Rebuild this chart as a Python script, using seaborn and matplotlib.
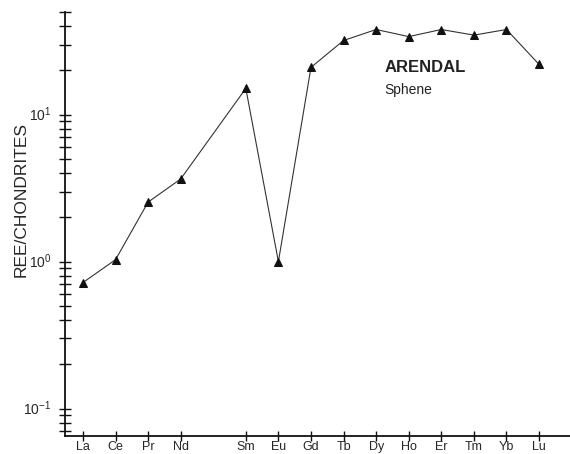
import numpy as np
import pandas as pd
import matplotlib
matplotlib.use("Agg")
import matplotlib.pyplot as plt
import seaborn as sns
from matplotlib.ticker import FixedLocator, LogLocator, NullFormatter

# REE pattern, chondrite normalised (Pm position left empty)
elements = ["La", "Ce", "Pr", "Nd", "Sm", "Eu", "Gd", "Tb", "Dy", "Ho", "Er", "Tm", "Yb", "Lu"]
positions = [0, 1, 2, 3, 5, 6, 7, 8, 9, 10, 11, 12, 13, 14]
values = [0.72, 1.03, 2.54, 3.65, 15.1, 1.0, 21.0, 32.0, 38.0, 34.0, 38.0, 34.8, 38.0, 22.0]

df = pd.DataFrame({"element": elements, "pos": positions, "ratio": values})

sns.set_style("ticks")
plt.rcParams["font.family"] = ["Liberation Sans", "DejaVu Sans"]
plt.rcParams["mathtext.fontset"] = "custom"
plt.rcParams["mathtext.rm"] = "Liberation Sans"
plt.rcParams["mathtext.it"] = "Liberation Sans"

fig = plt.figure(figsize=(5.7, 4.54), dpi=100)
ax = fig.add_axes([65 / 570, 18 / 454, 505 / 570, 424 / 454])

sns.lineplot(data=df, x="pos", y="ratio", ax=ax, color="#333333", linewidth=0.8,
             marker="^", markersize=5.5, markerfacecolor="#111111",
             markeredgecolor="#111111")

ax.set_yscale("log")
ax.set_ylim(0.065, 50)
ax.set_xlim(-0.55, 14.95)

# y ticks: decades labelled, minor ticks unlabelled
ax.yaxis.set_major_locator(FixedLocator([0.1, 1, 10]))
ax.set_yticklabels(["$10^{-1}$", "$10^{0}$", "$10^{1}$"])
ax.yaxis.set_minor_locator(LogLocator(base=10, subs=np.arange(2, 10)))
ax.yaxis.set_minor_formatter(NullFormatter())
ax.tick_params(axis="y", which="both", direction="inout", length=8, width=1.0,
               labelsize=10, pad=6, color="#111111")
for lab in ax.get_yticklabels():
    lab.set_verticalalignment("center")

ax.set_xticks(positions)
ax.set_xticklabels(elements)
ax.tick_params(axis="x", direction="inout", length=7, width=1.0, labelsize=9,
               pad=0, color="#111111")

for side in ["top", "right"]:
    ax.spines[side].set_visible(False)
for side in ["left", "bottom"]:
    ax.spines[side].set_linewidth(1.3)
    ax.spines[side].set_color("#111111")

ax.set_xlabel("")
ax.set_ylabel("REE/CHONDRITES", fontsize=12.5)
ax.yaxis.set_label_coords(-0.072, 0.557)

ax.text(0.633, 0.868, "ARENDAL", transform=ax.transAxes, fontsize=12,
        fontweight="bold", va="center", ha="left", color="#222222")
ax.text(0.633, 0.815, "Sphene", transform=ax.transAxes, fontsize=10,
        va="center", ha="left", color="#222222")

fig.savefig("out.png", dpi=100)
